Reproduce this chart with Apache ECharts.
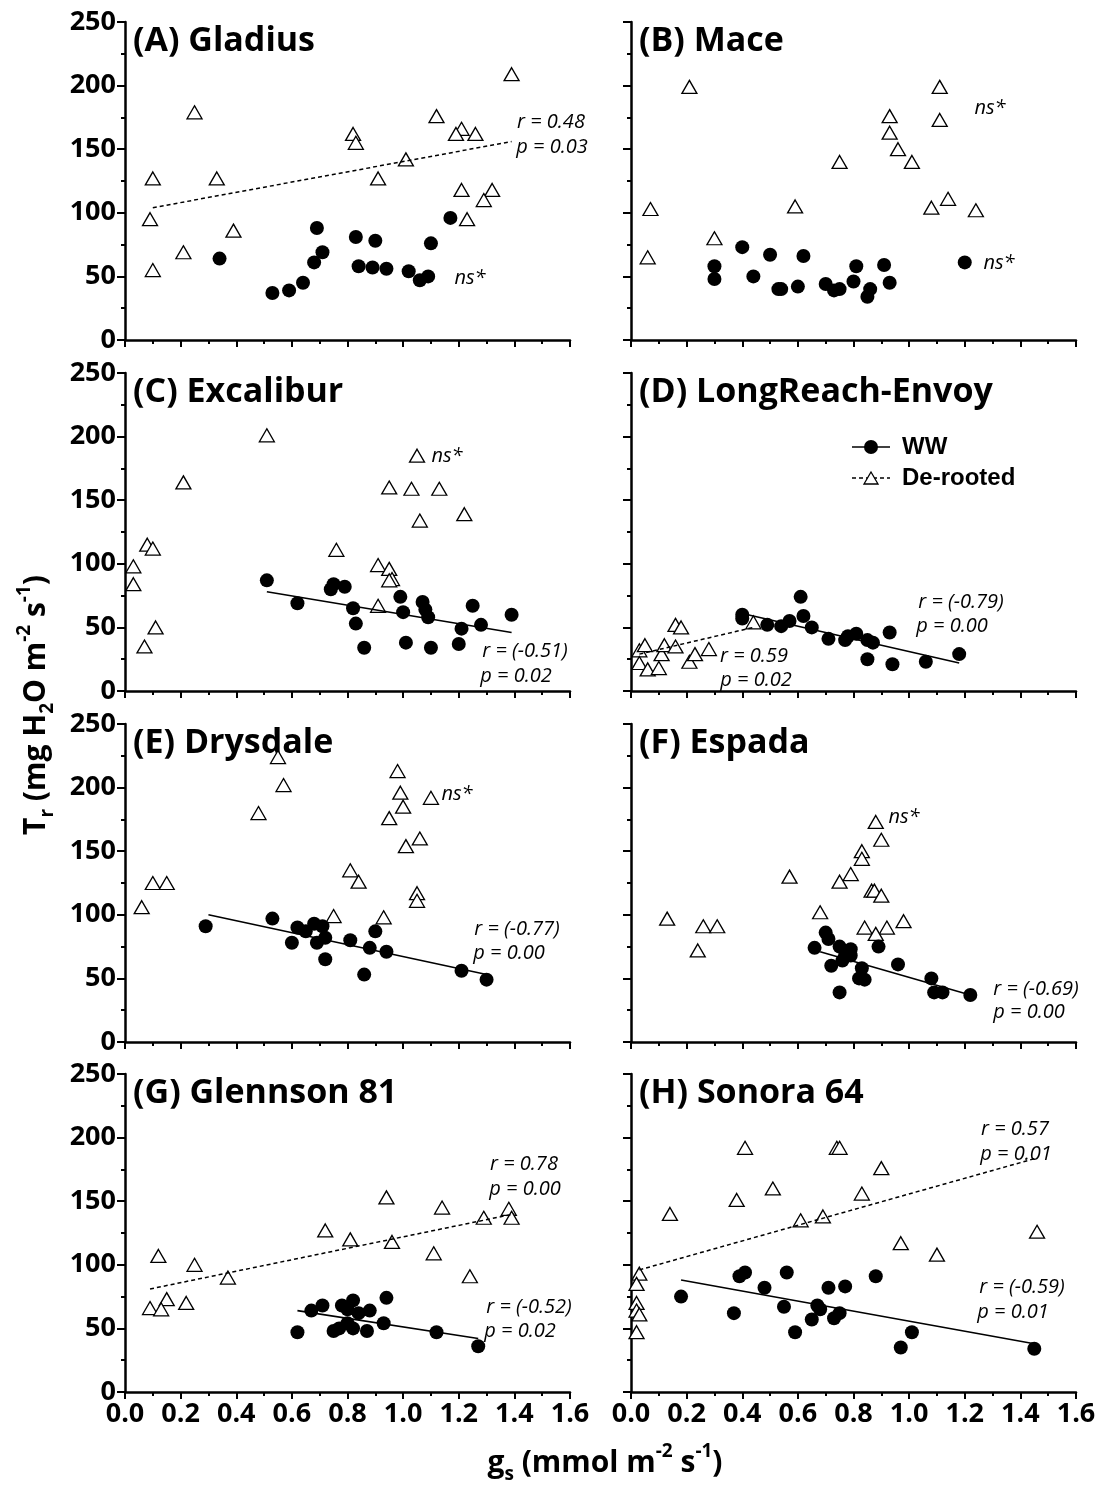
<!DOCTYPE html>
<html>
<head>
<meta charset="utf-8">
<script src="https://cdn.jsdelivr.net/npm/echarts@6/dist/echarts.min.js"></script>
<style>
html,body{margin:0;padding:0;background:#fff;}
#main{width:1104px;height:1488px;}
</style>
</head>
<body>
<div id="main"></div>
<script>
// ---------- DATA ----------
const panelTitles = ['(A) Gladius','(B) Mace','(C) Excalibur','(D) LongReach-Envoy','(E) Drysdale','(F) Espada','(G) Glennson 81','(H) Sonora 64'];
const xTicks = [0, 1.6, 0.2];
const yTicks = [0, 250, 50];

const A_dr = [[1.39,209],[0.25,179],[1.12,176],[0.82,162],[0.83,155],[1.21,166],[1.19,162],[1.26,162],[1.01,142],[0.10,127],[0.33,127],[0.91,127],[1.21,118],[1.32,118],[1.29,110],[0.09,95],[1.23,95],[0.39,86],[0.21,69],[0.10,55]];
const A_ww = [[0.34,64],[0.53,37],[0.59,39],[0.64,45],[0.69,88],[0.68,61],[0.71,69],[0.83,81],[0.90,78],[0.84,58],[0.89,57],[0.94,56],[1.02,54],[1.06,47],[1.09,50],[1.10,76],[1.17,96]];
const A_drFit = [[0.10,104],[1.39,156]];
const A_wwFit = null;

const B_dr = [[0.21,199],[1.11,199],[0.93,176],[1.11,173],[0.93,163],[0.96,150],[0.75,140],[1.01,140],[1.14,111],[0.59,105],[1.08,104],[1.24,102],[0.07,103],[0.30,80],[0.06,65]];
const B_ww = [[0.30,58],[0.30,48],[0.40,73],[0.44,50],[0.50,67],[0.53,40],[0.54,40],[0.60,42],[0.62,66],[0.70,44],[0.73,39],[0.75,40],[0.80,46],[0.81,58],[0.86,40],[0.85,34],[0.91,59],[0.93,45],[1.20,61]];
const B_drFit = null;
const B_wwFit = null;

const C_dr = [[0.51,201],[1.05,185],[0.21,164],[0.95,160],[1.03,159],[1.13,159],[1.06,134],[1.22,139],[0.08,115],[0.10,112],[0.76,111],[0.03,98],[0.91,99],[0.95,96],[0.96,88],[0.95,87],[0.03,84],[0.91,67],[0.11,50],[0.07,35]];
const C_ww = [[0.51,87],[0.62,69],[0.74,80],[0.75,84],[0.79,82],[0.82,65],[0.83,53],[0.86,34],[0.99,74],[1.00,62],[1.07,70],[1.08,64],[1.09,58],[1.01,38],[1.10,34],[1.20,37],[1.21,49],[1.25,67],[1.28,52],[1.39,60]];
const C_drFit = null;
const C_wwFit = [[0.51,78],[1.39,46]];

const D_dr = [[0.03,32],[0.05,36],[0.03,22],[0.06,17],[0.10,18],[0.11,29],[0.12,36],[0.16,35],[0.16,52],[0.18,50],[0.21,23],[0.23,29],[0.28,33],[0.44,54]];
const D_ww = [[0.40,60],[0.40,57],[0.49,52],[0.54,51],[0.57,55],[0.61,74],[0.62,59],[0.65,50],[0.71,41],[0.77,40],[0.78,43],[0.81,45],[0.85,40],[0.87,38],[0.85,25],[0.93,46],[0.94,21],[1.06,23],[1.18,29]];
const D_drFit = [[0.03,29],[0.44,50]];
const D_wwFit = [[0.40,61],[1.18,22]];

const E_dr = [[0.55,224],[0.57,202],[0.48,180],[0.98,213],[0.99,196],[1.00,185],[0.95,176],[1.10,192],[1.01,154],[1.06,160],[0.81,135],[0.84,126],[1.05,117],[1.05,111],[0.10,125],[0.15,125],[0.06,106],[0.75,99],[0.93,98]];
const E_ww = [[0.29,91],[0.53,97],[0.62,90],[0.65,87],[0.68,93],[0.71,91],[0.60,78],[0.69,78],[0.72,82],[0.72,65],[0.81,80],[0.90,87],[0.88,74],[0.94,71],[0.86,53],[1.21,56],[1.30,49]];
const E_drFit = null;
const E_wwFit = [[0.30,100],[1.30,53]];

const F_dr = [[0.88,173],[0.90,159],[0.83,150],[0.83,144],[0.79,132],[0.75,126],[0.57,130],[0.865,119],[0.875,119],[0.90,115],[0.68,102],[0.98,95],[0.84,90],[0.92,90],[0.88,85],[0.13,97],[0.26,91],[0.31,91],[0.24,72]];
const F_ww = [[0.66,74],[0.70,86],[0.71,81],[0.75,75],[0.79,73],[0.77,68],[0.79,68],[0.72,60],[0.76,64],[0.83,58],[0.82,50],[0.84,49],[0.75,39],[0.89,75],[0.96,61],[1.08,50],[1.09,39],[1.12,39],[1.22,37]];
const F_drFit = null;
const F_wwFit = [[0.68,71],[1.22,37]];

const G_dr = [[0.94,153],[1.14,145],[1.38,144],[1.29,137],[1.39,137],[0.72,127],[0.81,120],[0.96,118],[1.11,109],[0.12,107],[0.25,100],[0.37,90],[1.24,91],[0.15,73],[0.22,70],[0.09,66],[0.13,65]];
const G_ww = [[0.62,47],[0.67,64],[0.71,68],[0.78,68],[0.82,72],[0.80,65],[0.84,62],[0.88,64],[0.94,74],[0.75,48],[0.77,50],[0.80,54],[0.82,50],[0.87,48],[0.93,54],[1.12,47],[1.27,36]];
const G_drFit = [[0.09,81],[1.40,140]];
const G_wwFit = [[0.62,64],[1.27,42]];

const H_dr = [[0.41,192],[0.74,192],[0.75,192],[0.90,176],[0.51,160],[0.38,151],[0.83,156],[0.14,140],[0.61,135],[0.69,138],[0.97,117],[1.10,108],[1.46,126],[0.03,93],[0.02,85],[0.02,70],[0.02,64],[0.03,61],[0.02,47]];
const H_ww = [[0.18,75],[0.37,62],[0.39,91],[0.41,94],[0.48,82],[0.55,67],[0.56,94],[0.59,47],[0.65,57],[0.67,68],[0.68,65],[0.71,82],[0.73,58],[0.75,62],[0.77,83],[0.88,91],[0.97,35],[1.01,47],[1.45,34]];
const H_drFit = [[0.03,96],[1.46,184]];
const H_wwFit = [[0.18,88],[1.45,38]];

// ---------- LAYOUT ----------
const wwSets = [A_ww,B_ww,C_ww,D_ww,E_ww,F_ww,G_ww,H_ww];
const drSets = [A_dr,B_dr,C_dr,D_dr,E_dr,F_dr,G_dr,H_dr];
const wwFits = [A_wwFit,B_wwFit,C_wwFit,D_wwFit,E_wwFit,F_wwFit,G_wwFit,H_wwFit];
const drFits = [A_drFit,B_drFit,C_drFit,D_drFit,E_drFit,F_drFit,G_drFit,H_drFit];

const tops = [22, 373, 724, 1074];
const lefts = [125, 631];
const GW = 445, GH = 318;

const annotations = [
  ['r = 0.48',551,122],['p = 0.03',552,147],['ns*',470,278],
  ['ns*',990,108],['ns*',999,263],
  ['ns*',447,456],['r = (-0.51)',525,651],['p = 0.02',516,676],
  ['r = (-0.79)',961,602],['p = 0.00',952,626],['r = 0.59',754,656],['p = 0.02',756,680],
  ['ns*',457,794],['r = (-0.77)',517,929],['p = 0.00',509,953],
  ['ns*',904,817],['r = (-0.69)',1036,989],['p = 0.00',1029,1012],
  ['r = 0.78',524,1164],['p = 0.00',525,1189],['r = (-0.52)',529,1307],['p = 0.02',520,1331],
  ['r = 0.57',1015,1129],['p = 0.01',1016,1154],['r = (-0.59)',1022,1287],['p = 0.01',1013,1312]
];

const FONT = "'Open Sans', 'Noto Sans', sans-serif";
const grid = [], xAxis = [], yAxis = [], series = [], graphic = [];

for (let i = 0; i < 8; i++) {
  const col = i % 2, row = Math.floor(i / 2);
  grid.push({left: lefts[col], top: tops[row], width: GW, height: GH, containLabel: false});
  xAxis.push({
    type: 'value', gridIndex: i, min: xTicks[0], max: xTicks[1], interval: xTicks[2],
    axisLine: {show: true, onZero: false, lineStyle: {color: '#000', width: 2.5}},
    axisTick: {show: true, length: 7, lineStyle: {color: '#000', width: 2}},
    minorTick: {show: true, splitNumber: 2, length: 4, lineStyle: {color: '#000', width: 2}},
    splitLine: {show: false}, minorSplitLine: {show: false},
    axisLabel: {show: row === 3, color: '#000', fontFamily: FONT, fontWeight: 'bold', fontSize: 27, margin: 9,
      formatter: v => v.toFixed(1)}
  });
  yAxis.push({
    type: 'value', gridIndex: i, min: yTicks[0], max: yTicks[1], interval: yTicks[2],
    axisLine: {show: true, onZero: false, lineStyle: {color: '#000', width: 2.5}},
    axisTick: {show: true, length: 8, lineStyle: {color: '#000', width: 2}},
    minorTick: {show: true, splitNumber: 2, length: 4, lineStyle: {color: '#000', width: 2}},
    splitLine: {show: false}, minorSplitLine: {show: false},
    axisLabel: {show: col === 0, color: '#000', fontFamily: FONT, fontWeight: 'bold', fontSize: 27, margin: 9}
  });
  series.push({
    type: 'scatter', xAxisIndex: i, yAxisIndex: i, data: drSets[i], symbol: 'triangle', symbolSize: [15, 13],
    itemStyle: {color: '#fff', borderColor: '#000', borderWidth: 1.3, opacity: 1}, z: 2
  });
  series.push({
    type: 'scatter', xAxisIndex: i, yAxisIndex: i, data: wwSets[i], symbol: 'circle', symbolSize: 14,
    itemStyle: {color: '#000', opacity: 1}, z: 3
  });
  if (drFits[i]) series.push({
    type: 'line', xAxisIndex: i, yAxisIndex: i, data: drFits[i], showSymbol: false, symbol: 'none',
    lineStyle: {color: '#000', width: 1.5, type: [4, 3]}, z: 4
  });
  if (wwFits[i]) series.push({
    type: 'line', xAxisIndex: i, yAxisIndex: i, data: wwFits[i], showSymbol: false, symbol: 'none',
    lineStyle: {color: '#000', width: 1.6}, z: 4
  });
  graphic.push({
    type: 'text', x: col === 0 ? 133 : 639, y: tops[row] + 19,
    style: {text: panelTitles[i], fill: '#000', font: "bold 34px " + FONT, textAlign: 'left', textVerticalAlign: 'middle'}
  });
}

annotations.forEach(a => {
  graphic.push({type: 'text', x: a[1], y: a[2],
    style: {text: a[0], fill: '#000', font: "italic 20px " + FONT, textAlign: 'center', textVerticalAlign: 'middle'}});
});

// Legend (panel D)
graphic.push({type: 'line', shape: {x1: 852, y1: 447, x2: 890, y2: 447}, style: {stroke: '#000', lineWidth: 1.6}});
graphic.push({type: 'circle', shape: {cx: 871, cy: 447, r: 7}, style: {fill: '#000'}});
graphic.push({type: 'text', x: 902, y: 447, style: {text: 'WW', fill: '#000', font: "bold 24px 'Liberation Sans', Arial, sans-serif", textAlign: 'left', textVerticalAlign: 'middle'}});
graphic.push({type: 'line', shape: {x1: 852, y1: 478, x2: 890, y2: 478}, style: {stroke: '#000', lineWidth: 1.5, lineDash: [4, 3]}});
graphic.push({type: 'polygon', shape: {points: [[871, 472], [878, 484], [864, 484]]}, style: {fill: '#fff', stroke: '#000', lineWidth: 1.3}});
graphic.push({type: 'text', x: 902, y: 478, style: {text: 'De-rooted', fill: '#000', font: "bold 24px 'Liberation Sans', Arial, sans-serif", textAlign: 'left', textVerticalAlign: 'middle'}});

// Axis titles
const richBase = {
  a: {fontFamily: FONT, fontWeight: 'bold', fontSize: 30, lineHeight: 42, verticalAlign: 'middle', fill: '#000'},
  sub: {fontFamily: FONT, fontWeight: 'bold', fontSize: 19, lineHeight: 42, verticalAlign: 'bottom', fill: '#000'},
  sup: {fontFamily: FONT, fontWeight: 'bold', fontSize: 19, lineHeight: 42, verticalAlign: 'top', fill: '#000'}
};
graphic.push({type: 'text', x: 36, y: 705, rotation: Math.PI / 2,
  style: {text: '{a|T}{sub|r}{a| (mg H}{sub|2}{a|O m}{sup|-2}{a| s}{sup|-1}{a|)}', rich: richBase, textAlign: 'center', textVerticalAlign: 'middle'}});
graphic.push({type: 'text', x: 605, y: 1463,
  style: {text: '{a|g}{sub|s}{a| (mmol m}{sup|-2}{a| s}{sup|-1}{a|)}', rich: richBase, textAlign: 'center', textVerticalAlign: 'middle'}});

const chart = echarts.init(document.getElementById('main'), null, {renderer: 'canvas'});
chart.setOption({
  animation: false,
  backgroundColor: '#fff',
  grid, xAxis, yAxis, series, graphic
});
</script>
</body>
</html>
